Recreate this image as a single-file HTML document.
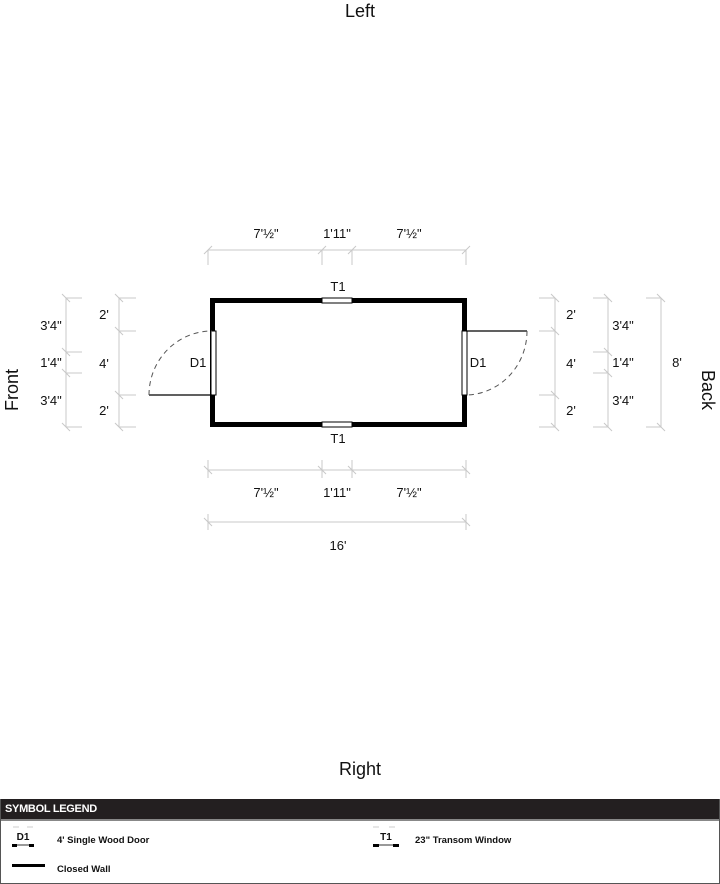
<!DOCTYPE html>
<html><head><meta charset="utf-8"><style>
html,body{margin:0;padding:0;background:#fff;width:720px;height:884px;overflow:hidden;font-family:"Liberation Sans",Arial,sans-serif}
svg{position:absolute;left:0;top:0}
.leg{position:absolute;left:0;top:799px;width:718px;height:84px;border:1px solid #555;border-top:none}
.hd{background:#231f20;height:20px;color:#fff;font-weight:bold;font-size:11px;line-height:21px;padding-left:4px;border-bottom:2px solid #888;letter-spacing:-0.3px}
.it{position:absolute;font-size:9.5px;font-weight:bold;color:#111}
</style></head><body>
<svg width="720" height="884" viewBox="0 0 720 884" font-family="Liberation Sans, Arial, sans-serif">
<g stroke="#c8c8c8" stroke-width="1" fill="none">
<line x1="208" y1="250" x2="466" y2="250"/>
<g><line x1="208" y1="250" x2="208" y2="265"/><line x1="322" y1="250" x2="322" y2="265"/><line x1="352" y1="250" x2="352" y2="265"/><line x1="466" y1="250" x2="466" y2="265"/></g>
<g><line x1="204" y1="254" x2="212" y2="246"/><line x1="318" y1="254" x2="326" y2="246"/><line x1="348" y1="254" x2="356" y2="246"/><line x1="462" y1="254" x2="470" y2="246"/></g>
<line x1="208" y1="470" x2="466" y2="470"/>
<g><line x1="208" y1="460" x2="208" y2="478"/><line x1="322" y1="460" x2="322" y2="478"/><line x1="352" y1="460" x2="352" y2="478"/><line x1="466" y1="460" x2="466" y2="478"/></g>
<g><line x1="204" y1="466" x2="212" y2="474"/><line x1="318" y1="466" x2="326" y2="474"/><line x1="348" y1="466" x2="356" y2="474"/><line x1="462" y1="466" x2="470" y2="474"/></g>
<line x1="208" y1="522" x2="466" y2="522"/>
<line x1="208" y1="514" x2="208" y2="530"/><line x1="466" y1="514" x2="466" y2="530"/>
<line x1="204" y1="518" x2="212" y2="526"/><line x1="462" y1="518" x2="470" y2="526"/>
<line x1="66" y1="298" x2="66" y2="427"/>
<line x1="66" y1="298" x2="82" y2="298"/><line x1="66" y1="352" x2="82" y2="352"/><line x1="66" y1="373" x2="82" y2="373"/><line x1="66" y1="427" x2="82" y2="427"/>
<line x1="62" y1="294" x2="70" y2="302"/><line x1="62" y1="348" x2="70" y2="356"/><line x1="62" y1="369" x2="70" y2="377"/><line x1="62" y1="423" x2="70" y2="431"/>
<line x1="119" y1="298" x2="119" y2="427"/>
<line x1="119" y1="298" x2="136" y2="298"/><line x1="119" y1="331" x2="136" y2="331"/><line x1="119" y1="395" x2="136" y2="395"/><line x1="119" y1="427" x2="136" y2="427"/>
<line x1="115" y1="294" x2="123" y2="302"/><line x1="115" y1="327" x2="123" y2="335"/><line x1="115" y1="391" x2="123" y2="399"/><line x1="115" y1="423" x2="123" y2="431"/>
<line x1="555" y1="298" x2="555" y2="427"/>
<line x1="539" y1="298" x2="555" y2="298"/><line x1="539" y1="331" x2="555" y2="331"/><line x1="539" y1="395" x2="555" y2="395"/><line x1="539" y1="427" x2="555" y2="427"/>
<line x1="551" y1="294" x2="559" y2="302"/><line x1="551" y1="327" x2="559" y2="335"/><line x1="551" y1="391" x2="559" y2="399"/><line x1="551" y1="423" x2="559" y2="431"/>
<line x1="608" y1="298" x2="608" y2="427"/>
<line x1="593" y1="298" x2="608" y2="298"/><line x1="593" y1="352" x2="608" y2="352"/><line x1="593" y1="373" x2="608" y2="373"/><line x1="593" y1="427" x2="608" y2="427"/>
<line x1="604" y1="294" x2="612" y2="302"/><line x1="604" y1="348" x2="612" y2="356"/><line x1="604" y1="369" x2="612" y2="377"/><line x1="604" y1="423" x2="612" y2="431"/>
<line x1="661" y1="298" x2="661" y2="427"/>
<line x1="646" y1="298" x2="661" y2="298"/><line x1="646" y1="427" x2="661" y2="427"/>
<line x1="657" y1="294" x2="665" y2="302"/><line x1="657" y1="423" x2="665" y2="431"/>
</g>
<rect x="212.5" y="300.5" width="252" height="124" fill="none" stroke="#000" stroke-width="5"/>
<rect x="322" y="298" width="30" height="5" fill="#fff" stroke="#000" stroke-width="1"/>
<rect x="322" y="422" width="30" height="5" fill="#fff" stroke="#000" stroke-width="1"/>
<rect x="211" y="331" width="5" height="64" fill="#fff" stroke="#000" stroke-width="1"/>
<rect x="462" y="331" width="5" height="64" fill="#fff" stroke="#000" stroke-width="1"/>
<line x1="149" y1="395" x2="212" y2="395" stroke="#000" stroke-width="1.3"/>
<path d="M149 395 A63 64 0 0 1 212 331" fill="none" stroke="#555" stroke-width="1" stroke-dasharray="5 4"/>
<line x1="466" y1="331" x2="527" y2="331" stroke="#000" stroke-width="1.3"/>
<path d="M527 331 A62 64 0 0 1 465 395" fill="none" stroke="#555" stroke-width="1" stroke-dasharray="5 4"/>
<g font-size="13" fill="#111" text-anchor="middle">
<text x="266" y="238">7'½"</text><text x="337" y="238">1'11"</text><text x="409" y="238">7'½"</text>
<text x="266" y="497">7'½"</text><text x="337" y="497">1'11"</text><text x="409" y="497">7'½"</text>
<text x="338" y="550">16'</text>
<text x="338" y="291">T1</text><text x="338" y="443">T1</text>
<text x="198" y="367">D1</text><text x="478" y="367">D1</text>
<text x="51" y="330">3'4"</text><text x="51" y="367">1'4"</text><text x="51" y="405">3'4"</text>
<text x="104" y="319">2'</text><text x="104" y="368">4'</text><text x="104" y="415">2'</text>
<text x="571" y="319">2'</text><text x="571" y="368">4'</text><text x="571" y="415">2'</text>
<text x="623" y="330">3'4"</text><text x="623" y="367">1'4"</text><text x="623" y="405">3'4"</text>
<text x="677" y="367">8'</text>
</g>
<g font-size="18" fill="#111" text-anchor="middle">
<text x="360" y="17">Left</text>
<text x="360" y="775">Right</text>
<text transform="translate(18,390) rotate(-90)">Front</text>
<text transform="translate(702,390) rotate(90)">Back</text>
</g>
</svg>
<div class="leg">
<div class="hd">SYMBOL LEGEND</div>
<svg width="718" height="62" style="top:22px">
<line x1="12" y1="6" x2="18" y2="6" stroke="#ccc"/><line x1="26" y1="6" x2="32" y2="6" stroke="#ccc"/>
<text x="22" y="19" font-size="10" font-weight="bold" text-anchor="middle" fill="#111" font-family="Liberation Sans, Arial">D1</text>
<line x1="12" y1="24" x2="31" y2="24" stroke="#333"/>
<rect x="11" y="23" width="5" height="3" fill="#000"/><rect x="28" y="23" width="5" height="3" fill="#000"/>
<line x1="372" y1="6" x2="378" y2="6" stroke="#ccc"/><line x1="388" y1="6" x2="394" y2="6" stroke="#ccc"/>
<text x="385" y="19" font-size="10" font-weight="bold" text-anchor="middle" fill="#111" font-family="Liberation Sans, Arial">T1</text>
<line x1="373" y1="24" x2="398" y2="24" stroke="#333"/>
<rect x="372" y="23" width="6" height="3" fill="#000"/><rect x="392" y="23" width="6" height="3" fill="#000"/>
<rect x="11" y="43" width="33" height="3" fill="#000"/>
</svg>
<div class="it" style="left:56px;top:36px">4' Single Wood Door</div>
<div class="it" style="left:414px;top:36px">23" Transom Window</div>
<div class="it" style="left:56px;top:65px">Closed Wall</div>
</div>
</body></html>
